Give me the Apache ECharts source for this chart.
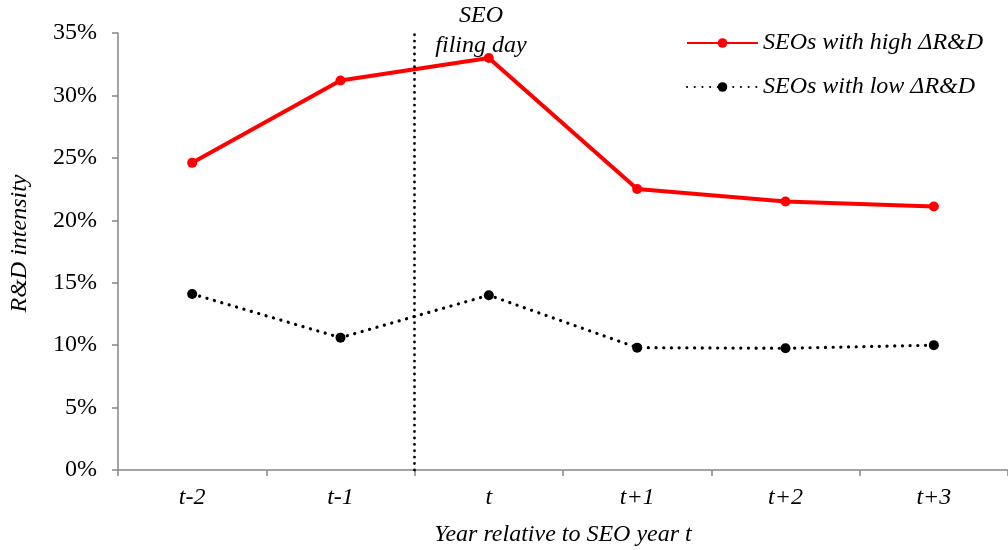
<!DOCTYPE html>
<html>
<head>
<meta charset="utf-8">
<script src="https://cdn.jsdelivr.net/npm/echarts@6/dist/echarts.min.js"></script>
<style>html,body{margin:0;padding:0;background:#fff;}#c{width:1008px;height:550px;}</style>
</head>
<body>
<div id="c"></div>
<script>
var categories = ['t-2', 't-1', 't', 't+1', 't+2', 't+3'];
var highSeries = [24.6, 31.2, 33.0, 22.5, 21.5, 21.1];
var lowSeries = [14.1, 10.6, 14.0, 9.8, 9.75, 10.0];
var seriesNames = ['SEOs with high \u0394R&D', 'SEOs with low \u0394R&D'];
var filingBoundary = 2;
var FONT = '"Liberation Serif", "Times New Roman", serif';
var AXIS = '#868686';
var FS = 24;

var chart = echarts.init(document.getElementById('c'), null, {renderer: 'canvas'});
chart.setOption({
  animation: false,
  backgroundColor: '#fff',
  grid: {left: 118, right: 0, top: 33, bottom: 80, containLabel: false, outerBoundsMode: 'none'},
  legend: {
    orient: 'vertical', left: 681, top: 26,
    itemWidth: 71, itemHeight: 12, itemGap: 20,
    textStyle: {fontFamily: FONT, fontStyle: 'italic', fontSize: FS, color: '#000'},
    data: seriesNames
  },
  graphic: [{
    type: 'text', x: 481, y: 31,
    style: {text: 'SEO\nfiling day', font: 'italic ' + FS + 'px ' + FONT, fill: '#000',
      align: 'center', verticalAlign: 'middle', lineHeight: 30}
  }],
  xAxis: [{
    type: 'category', data: categories, boundaryGap: true,
    axisLine: {lineStyle: {color: AXIS, width: 1.5}},
    axisTick: {show: true, length: 6, interval: 0, lineStyle: {color: AXIS, width: 1.5}},
    axisLabel: {fontFamily: FONT, fontStyle: 'italic', fontSize: FS, color: '#000', margin: 16},
    name: 'Year relative to SEO year t', nameLocation: 'middle', nameGap: 53,
    nameTextStyle: {fontFamily: FONT, fontStyle: 'italic', fontSize: FS, color: '#000'},
    splitLine: {show: false}
  }, {
    type: 'value', min: 0, max: 6, show: false
  }],
  yAxis: {
    type: 'value', min: 0, max: 35, interval: 5,
    axisLine: {show: true, lineStyle: {color: AXIS, width: 1.5}},
    axisTick: {show: true, length: 6, lineStyle: {color: AXIS, width: 1.5}},
    axisLabel: {formatter: '{value}%', fontFamily: FONT, fontSize: FS, color: '#000', margin: 21},
    splitLine: {show: false},
    name: 'R&D intensity', nameLocation: 'middle', nameGap: 86,
    nameTextStyle: {fontFamily: FONT, fontStyle: 'italic', fontSize: FS, color: '#000', padding: [0, 0, 0, 16]}
  },
  series: [{
    name: seriesNames[0], type: 'line', data: highSeries,
    symbol: 'circle', symbolSize: 10,
    itemStyle: {color: '#ff0000'},
    lineStyle: {color: '#ff0000', width: 4}
  }, {
    name: seriesNames[1], type: 'line', data: lowSeries,
    symbol: 'circle', symbolSize: 10,
    itemStyle: {color: '#000'},
    lineStyle: {color: '#000', width: 3.2, type: [0.1, 7.6], cap: 'round'}
  }, {
    name: 'boundary', type: 'line', xAxisIndex: 1, data: [],
    markLine: {
      silent: true, symbol: ['none', 'none'], label: {show: false},
      lineStyle: {color: '#000', width: 2.8, type: [0.1, 6.3], cap: 'round'},
      data: [{xAxis: filingBoundary}]
    }
  }]
});
</script>
</body>
</html>
